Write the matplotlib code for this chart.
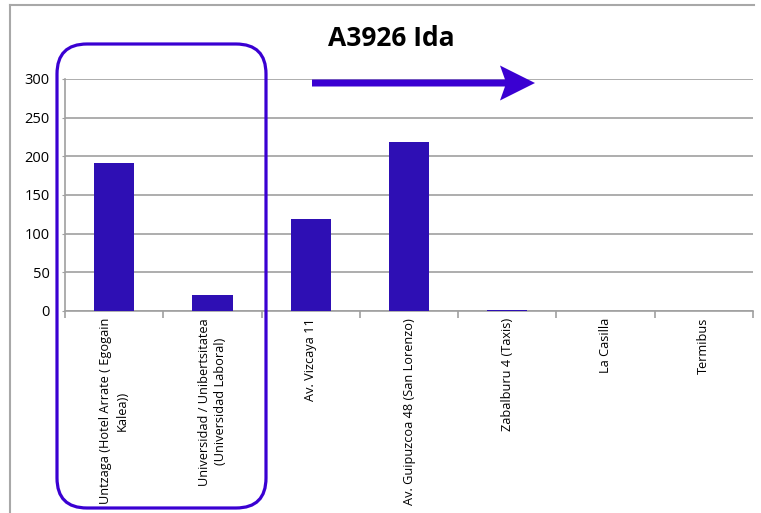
import numpy as np
import matplotlib
matplotlib.use('Agg')
import matplotlib.pyplot as plt
from matplotlib.patches import FancyBboxPatch, Polygon
from matplotlib.lines import Line2D

# data
stops = ['Untzaga (Hotel Arrate ( Egogain\nKalea))',
         'Universidad / Unibertsitatea\n(Universidad Laboral)',
         'Av. Vizcaya 11',
         'Av. Guipuzcoa 48 (San Lorenzo)',
         'Zabalburu 4 (Taxis)',
         'La Casilla',
         'Termibus']
viajeros = [192, 21, 119, 218, 1, 0, 0]
yticks = [0, 50, 100, 150, 200, 250, 300]

bar_col = '#2E0FB4'
hl_col = '#3A00D2'
grid_col = '#A0A0A0'

plt.rcParams['font.family'] = ['Open Sans', 'DejaVu Sans']

fig = plt.figure(figsize=(7.61, 5.13), dpi=100)
ax = fig.add_axes([65/761, 1-311/513, (753-65)/761, (311-79)/513])

x = np.arange(len(stops))
ax.bar(x, viajeros, width=0.41, color=bar_col, zorder=3)

ax.set_xlim(-0.5, len(stops)-0.5)
ax.set_ylim(0, 300)
ax.set_yticks(yticks)
ax.tick_params(axis='y', labelsize=10.5, length=2, color=grid_col, pad=9)
ax.yaxis.grid(True, color=grid_col, lw=1.2, zorder=0)

# category ticks between bars, labels at centres
ax.set_xticks(np.arange(-0.5, len(stops)), labels=[''] * (len(stops)+1))
ax.set_xticks(x, labels=stops, minor=True)
ax.tick_params(axis='x', which='major', length=5, color=grid_col, width=1.2)
ax.tick_params(axis='x', which='minor', length=0, pad=5, labelsize=9.2)
for lab in ax.get_xticklabels(minor=True):
    lab.set_rotation(90)
    lab.set_multialignment('center')
    lab.set_linespacing(1.35)

for s in ['top', 'right']:
    ax.spines[s].set_visible(False)
for s in ['left', 'bottom']:
    ax.spines[s].set_color(grid_col)
    ax.spines[s].set_linewidth(1.2)

# outer chart frame (top and left edges)
fig.add_artist(Line2D([10/761, 754/761], [1-5/513, 1-5/513], transform=fig.transFigure,
                      color='#A8A8A8', lw=1.5))
fig.add_artist(Line2D([10/761, 10/761], [0, 1-5/513], transform=fig.transFigure,
                      color='#A8A8A8', lw=1.5))

fig.text(391/761, 1-38/513, 'A3926 Ida', fontsize=19, fontweight='bold',
         ha='center', va='center')

# rounded highlight box around the first two stops (inches)
box = FancyBboxPatch((0.57, 0.05), 2.09, 4.64, boxstyle='round,pad=0,rounding_size=0.3',
                     transform=fig.dpi_scale_trans, fill=False, ec=hl_col, lw=2.3, zorder=5)
fig.add_artist(box)

# direction arrow (inches)
yc = (513-83)/100
arrow = Polygon([(3.12, yc+0.035), (5.05, yc+0.035), (5.00, yc+0.175), (5.35, yc),
                 (5.00, yc-0.175), (5.05, yc-0.035), (3.12, yc-0.035)],
                closed=True, transform=fig.dpi_scale_trans, fc=hl_col, ec='none', zorder=5)
fig.add_artist(arrow)

fig.savefig('out.png', dpi=100)
